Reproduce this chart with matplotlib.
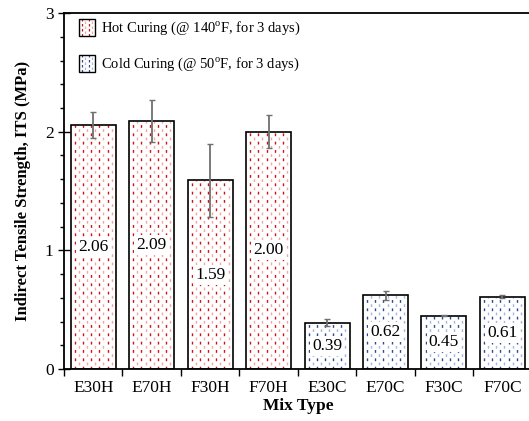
import numpy as np
from matplotlib import pyplot as plt
from matplotlib.patches import Rectangle
from matplotlib.lines import Line2D
from matplotlib.legend_handler import HandlerBase

plt.rcParams['font.family'] = 'Liberation Serif'
plt.rcParams['mathtext.fontset'] = 'custom'
plt.rcParams['mathtext.rm'] = 'Liberation Serif'

# data
mixes = ["E30H", "E70H", "F30H", "F70H", "E30C", "E70C", "F30C", "F70C"]
its = [2.06, 2.09, 1.59, 2.00, 0.39, 0.62, 0.45, 0.61]
its_err = [0.11, 0.18, 0.31, 0.14, 0.03, 0.04, 0.005, 0.01]
curing = ["hot", "hot", "hot", "hot", "cold", "cold", "cold", "cold"]
legend_labels = ["Hot Curing (@ 140$^{\\mathrm{o}}$F, for 3 days)",
                 "Cold Curing (@ 50$^{\\mathrm{o}}$F, for 3 days)"]

# hatch colours (dark, light) for each curing type
hatch_colors = {"hot": ("#cc1111", "#f2a6a6"), "cold": ("#2a4a8f", "#a8b6d8")}

bar_width = 0.77
n_cols = 10
dash = (0, (2.0, 4.0))
dash_shift = (3.0, (2.0, 4.0))

fig = plt.figure(figsize=(5.29, 4.21), dpi=100)
ax = fig.add_axes([0.121, 0.1235, 0.884, 0.8455])

x = np.arange(len(mixes))
ax.bar(x, its, width=bar_width, color="white", edgecolor="none", zorder=1)

# dashed vertical hatching inside each bar
for xi, v, c in zip(x, its, curing):
    dark, light = hatch_colors[c]
    xs = np.linspace(xi - bar_width / 2, xi + bar_width / 2, n_cols + 2)[1:-1]
    for k, xx in enumerate(xs):
        col = dark if k % 2 == 0 else light
        ls = dash if k % 2 == 0 else dash_shift
        ax.vlines(xx, 0, v, colors=col, linewidth=1.0, linestyles=[ls], zorder=2)

ax.bar(x, its, width=bar_width, color="none", edgecolor="black",
       linewidth=1.2, zorder=3)

ax.errorbar(x, its, yerr=its_err, fmt="none", ecolor="#707070",
            elinewidth=1.3, capsize=2, capthick=1.0, zorder=4)

for xi, v in zip(x, its):
    ax.text(xi, v / 2, "%.2f" % v, ha="center", va="center", fontsize=12.5,
            zorder=5, bbox=dict(facecolor="white", edgecolor="none", pad=1.5))

ax.set_xlim(-0.5, len(mixes) - 0.5)
ax.set_ylim(0, 3)
ax.set_yticks([0, 1, 2, 3])
ax.set_yticks(np.arange(0, 3.01, 0.2), minor=True)
ax.set_xticks(x)
ax.set_xticklabels(mixes, fontsize=12.5)
ax.set_xticks(np.arange(-0.5, len(mixes), 1.0), minor=True)
ax.tick_params(axis="x", which="major", length=0, pad=8)
ax.tick_params(axis="x", which="minor", direction="out", length=5, width=1)
ax.tick_params(axis="y", which="major", direction="inout", length=8, width=1,
               labelsize=12.5)
ax.tick_params(axis="y", which="minor", direction="out", length=3, width=1)

ax.spines["right"].set_visible(False)
for s in ["left", "bottom", "top"]:
    ax.spines[s].set_linewidth(1.3)

ax.set_xlabel("Mix Type", fontsize=12.5, fontweight="bold", labelpad=1)
ax.set_ylabel("Indirect Tensile Strength, ITS (MPa)", fontsize=12,
              fontweight="bold", labelpad=10)


class HatchHandler(HandlerBase):
    def __init__(self, kind):
        super().__init__()
        self.kind = kind

    def create_artists(self, legend, orig_handle, xdescent, ydescent,
                       width, height, fontsize, trans):
        dark, light = hatch_colors[self.kind]
        arts = []
        x0 = -xdescent
        y0 = -ydescent - 1.5
        w = width
        h = height + 3
        for k, f in enumerate([0.2, 0.4, 0.6, 0.8]):
            col = dark if k % 2 == 0 else light
            off = 0 if k % 2 == 0 else 2.0
            ln = Line2D([x0 + f * w, x0 + f * w], [y0, y0 + h], color=col,
                        linewidth=0.9, linestyle=(off, (2.0, 2.0)), transform=trans)
            arts.append(ln)
        rect = Rectangle((x0, y0), w, h, facecolor="none", edgecolor="black",
                         linewidth=1.0, transform=trans)
        arts.append(rect)
        return arts


h_hot = Rectangle((0, 0), 1, 1)
h_cold = Rectangle((0, 0), 1, 1)
ax.legend([h_hot, h_cold], legend_labels, loc="upper left",
          bbox_to_anchor=(0.01, 1.01), frameon=False, fontsize=10.5,
          labelspacing=1.25, handlelength=1.1, handleheight=1.0,
          handletextpad=0.45, borderaxespad=0.3,
          handler_map={h_hot: HatchHandler("hot"), h_cold: HatchHandler("cold")})

fig.savefig("out.png", dpi=100)
